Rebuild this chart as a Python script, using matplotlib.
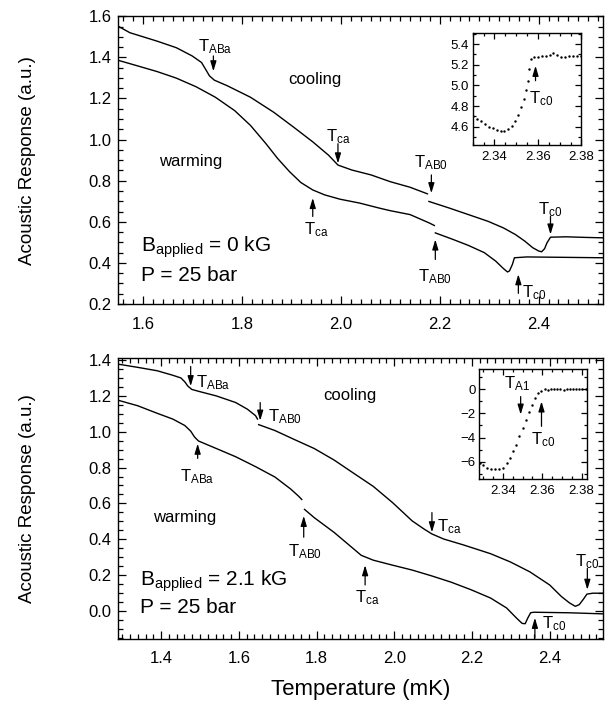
import matplotlib
matplotlib.use('Agg')
import matplotlib.pyplot as plt
from matplotlib.ticker import MultipleLocator
import numpy as np

plt.rcParams['font.family'] = ['Liberation Sans', 'DejaVu Sans']
plt.rcParams['mathtext.fontset'] = 'custom'
plt.rcParams['mathtext.rm'] = 'Liberation Sans'
plt.rcParams['mathtext.it'] = 'Liberation Sans:italic'

nan = np.nan

# ---------------- top panel (B = 0 kG) ----------------
top_cool_T = [1.549, 1.573, 1.628, 1.667, 1.699, 1.718, 1.726, 1.734, 1.744, 1.770, 1.817, 1.864,
              1.904, 1.943, 1.975, 1.994, 2.022, 2.061, 2.100, 2.140, 2.175, nan,
              2.178, 2.219, 2.258, 2.298, 2.329, 2.353, 2.372, 2.388, 2.400, 2.406, 2.412,
              2.417, 2.424, 2.455, 2.495, 2.530]
top_cool_A = [1.552, 1.520, 1.479, 1.447, 1.407, 1.375, 1.343, 1.310, 1.289, 1.262, 1.206, 1.133,
              1.061, 0.989, 0.924, 0.876, 0.852, 0.828, 0.795, 0.768, 0.736, nan,
              0.699, 0.667, 0.635, 0.602, 0.570, 0.538, 0.506, 0.474, 0.458, 0.454, 0.469,
              0.498, 0.525, 0.527, 0.524, 0.522]

top_warm_T = [1.549, 1.588, 1.628, 1.667, 1.707, 1.746, 1.785, 1.817, 1.848, 1.872, 1.896, 1.919,
              1.943, 1.967, 1.998, 2.038, 2.077, 2.100, 2.140, 2.179, 2.189, nan,
              2.191, 2.227, 2.258, 2.290, 2.313, 2.329, 2.337, 2.341, 2.347, 2.351, 2.376,
              2.455, 2.530]
top_warm_A = [1.386, 1.359, 1.331, 1.299, 1.257, 1.206, 1.141, 1.069, 0.981, 0.908, 0.844, 0.791,
              0.755, 0.731, 0.710, 0.691, 0.667, 0.654, 0.635, 0.594, 0.582, nan,
              0.546, 0.514, 0.485, 0.450, 0.409, 0.372, 0.356, 0.361, 0.393, 0.425, 0.429,
              0.427, 0.425]

# inset of top panel
ins1_T = [2.3304, 2.3321, 2.3339, 2.3357, 2.3375, 2.3393, 2.3411, 2.3429, 2.3446, 2.3464, 2.3479,
          2.3493, 2.3507, 2.3521, 2.3534, 2.3545, 2.3554, 2.3561, 2.3568, 2.3582, 2.3600, 2.3618,
          2.3636, 2.3654, 2.3671, 2.3689, 2.3707, 2.3725, 2.3743, 2.3761, 2.3779, 2.3796]
ins1_A = [4.706, 4.674, 4.652, 4.626, 4.600, 4.584, 4.568, 4.561, 4.561, 4.577, 4.610,
          4.658, 4.716, 4.787, 4.868, 4.955, 5.045, 5.158, 5.255, 5.271, 5.277, 5.284,
          5.284, 5.297, 5.310, 5.297, 5.277, 5.277, 5.284, 5.284, 5.284, 5.284]

# ---------------- bottom panel (B = 2.1 kG) ----------------
bot_cool_T = [1.289, 1.340, 1.390, 1.430, 1.451, 1.461, 1.469, 1.479, 1.501, 1.542, 1.592, 1.622,
              1.643, 1.648, nan, 1.651, 1.693, 1.744, 1.794, 1.845, 1.895, 1.946, 1.996, 2.046,
              2.077, 2.097, 2.127, 2.178, 2.248, 2.299, 2.349, 2.400, 2.430, 2.451, 2.466,
              2.476, 2.486, 2.496, 2.511, 2.537]
bot_cool_A = [1.376, 1.358, 1.339, 1.314, 1.299, 1.277, 1.253, 1.235, 1.222, 1.199, 1.162, 1.125,
              1.089, 1.070, nan, 1.039, 1.006, 0.955, 0.906, 0.842, 0.769, 0.695, 0.604, 0.503,
              0.457, 0.430, 0.402, 0.369, 0.320, 0.274, 0.219, 0.146, 0.082, 0.046, 0.027,
              0.036, 0.064, 0.095, 0.100, 0.100]

bot_warm_T = [1.289, 1.340, 1.390, 1.430, 1.461, 1.476, 1.486, 1.496, 1.542, 1.592, 1.643, 1.693,
              1.733, 1.754, 1.762, nan, 1.769, 1.794, 1.845, 1.885, 1.915, 1.946, 1.996, 2.046,
              2.097, 2.147, 2.198, 2.248, 2.289, 2.314, 2.329, 2.337, 2.344, 2.351, 2.359,
              2.450, 2.537]
bot_warm_A = [1.175, 1.144, 1.102, 1.070, 1.034, 1.003, 0.970, 0.948, 0.906, 0.860, 0.805, 0.747,
              0.681, 0.640, 0.622, nan, 0.567, 0.521, 0.439, 0.366, 0.311, 0.284, 0.256, 0.229,
              0.196, 0.161, 0.119, 0.073, 0.018, -0.037, -0.068, -0.070, -0.037, -0.009, -0.006,
              -0.009, -0.015]

# inset of bottom panel
ins2_T = [2.3284, 2.3300, 2.3320, 2.3340, 2.3360, 2.3380, 2.3400, 2.3420, 2.3436, 2.3452, 2.3468,
          2.3484, 2.3500, 2.3516, 2.3532, 2.3548, 2.3564, 2.3580, 2.3596, 2.3612, 2.3628, 2.3644,
          2.3660, 2.3676, 2.3692, 2.3708, 2.3724, 2.3740, 2.3756, 2.3772, 2.3788, 2.3804, 2.3820]
ins2_A = [-6.08, -6.30, -6.49, -6.58, -6.63, -6.63, -6.49, -6.14, -5.67, -5.12, -4.58,
          -3.89, -3.21, -2.58, -1.92, -1.29, -0.74, -0.33, -0.11, 0.00, -0.03, 0.00,
          0.00, 0.00, 0.00, -0.02, 0.00, 0.00, 0.00, 0.00, 0.00, 0.00, 0.00]


def style_axes(ax, xmaj, xmin, ymaj, ymin, size, lmaj=6, lmin=3.5, xpad=9, ypad=4.5):
    ax.xaxis.set_major_locator(MultipleLocator(xmaj))
    ax.xaxis.set_minor_locator(MultipleLocator(xmin))
    ax.yaxis.set_major_locator(MultipleLocator(ymaj))
    ax.yaxis.set_minor_locator(MultipleLocator(ymin))
    ax.tick_params(which='both', direction='in', top=True, right=True, labelsize=size, width=0.9)
    ax.tick_params(which='major', length=lmaj)
    ax.tick_params(which='minor', length=lmin)
    ax.tick_params(axis='x', which='both', pad=xpad)
    ax.tick_params(axis='y', which='both', pad=ypad)
    for s in ax.spines.values():
        s.set_linewidth(1.0)


def arrow(ax, x, y0, y1):
    # arrow from y0 (tail) to y1 (head)
    ax.annotate('', xy=(x, y1), xytext=(x, y0),
                arrowprops=dict(arrowstyle='-|>,head_length=0.6,head_width=0.18', color='k',
                                lw=0.9, mutation_scale=10, shrinkA=0, shrinkB=0))


def lab(ax, x, y, s, size=12, ha='center'):
    ax.text(x, y, s, fontsize=size, ha=ha, va='center')


fig = plt.figure(figsize=(6.13, 7.07), dpi=100)
ax1 = fig.add_axes([0.1925, 0.570, 0.791, 0.407])
ax2 = fig.add_axes([0.1925, 0.0962, 0.791, 0.3974])

# ---- top ----
ax1.plot(top_cool_T, top_cool_A, color='k', lw=1.0)
ax1.plot(top_warm_T, top_warm_A, color='k', lw=1.0)
ax1.set_xlim(1.549, 2.530)
ax1.set_ylim(0.2, 1.6)
style_axes(ax1, 0.2, 0.02, 0.2, 0.05, 12)
ax1.set_ylabel('Acoustic Response (a.u.)', fontsize=13.5, labelpad=38)

lab(ax1, 1.746, 1.450, r'$\mathregular{T_{ABa}}$')
arrow(ax1, 1.742, 1.407, 1.332)
lab(ax1, 1.947, 1.294, 'cooling')
lab(ax1, 1.695, 0.892, 'warming')
lab(ax1, 1.994, 1.015, r'$\mathregular{T_{ca}}$')
arrow(ax1, 1.994, 0.980, 0.884)
arrow(ax1, 1.943, 0.626, 0.716)
lab(ax1, 1.950, 0.560, r'$\mathregular{T_{ca}}$')
lab(ax1, 2.183, 0.886, r'$\mathregular{T_{AB0}}$')
arrow(ax1, 2.183, 0.828, 0.739)
arrow(ax1, 2.191, 0.417, 0.514)
lab(ax1, 2.191, 0.335, r'$\mathregular{T_{AB0}}$')
lab(ax1, 2.424, 0.661, r'$\mathregular{T_{c0}}$')
arrow(ax1, 2.424, 0.627, 0.538)
arrow(ax1, 2.359, 0.252, 0.345)
lab(ax1, 2.366, 0.255, r'$\mathregular{T_{c0}}$', ha='left')
lab(ax1, 1.596, 0.474, r'$\mathregular{B_{applied}}$ = 0 kG', size=15, ha='left')
lab(ax1, 1.596, 0.337, 'P = 25 bar', size=15, ha='left')

# inset top
in1 = fig.add_axes([0.771, 0.7946, 0.1775, 0.159])
in1.plot(ins1_T, ins1_A, ls='none', marker='.', ms=1.5, color='k')
in1.set_xlim(2.33, 2.38)
in1.set_ylim(4.42, 5.51)
style_axes(in1, 0.02, 0.005, 0.2, 0.1, 9.5, 4, 2.5, xpad=4, ypad=2.5)
arrow(in1, 2.3589, 5.045, 5.19)
lab(in1, 2.3613, 4.87, r'$\mathregular{T_{c0}}$')

# ---- bottom ----
ax2.plot(bot_cool_T, bot_cool_A, color='k', lw=1.0)
ax2.plot(bot_warm_T, bot_warm_A, color='k', lw=1.0)
ax2.set_xlim(1.289, 2.537)
ax2.set_ylim(-0.155, 1.41)
style_axes(ax2, 0.2, 0.02, 0.2, 0.05, 12)
ax2.set_ylabel('Acoustic Response (a.u.)', fontsize=13.5, labelpad=38)
ax2.set_xlabel('Temperature (mK)', fontsize=16, labelpad=9)

arrow(ax2, 1.476, 1.363, 1.253)
lab(ax2, 1.491, 1.275, r'$\mathregular{T_{ABa}}$', ha='left')
arrow(ax2, 1.655, 1.162, 1.061)
lab(ax2, 1.675, 1.082, r'$\mathregular{T_{AB0}}$', ha='left')
arrow(ax2, 1.494, 0.851, 0.933)
lab(ax2, 1.494, 0.750, r'$\mathregular{T_{ABa}}$')
arrow(ax2, 1.767, 0.412, 0.531)
lab(ax2, 1.770, 0.329, r'$\mathregular{T_{AB0}}$')
arrow(ax2, 1.925, 0.146, 0.256)
lab(ax2, 1.930, 0.073, r'$\mathregular{T_{ca}}$')
arrow(ax2, 2.097, 0.549, 0.439)
lab(ax2, 2.110, 0.470, r'$\mathregular{T_{ca}}$', ha='left')
lab(ax2, 2.496, 0.276, r'$\mathregular{T_{c0}}$')
arrow(ax2, 2.497, 0.238, 0.119)
arrow(ax2, 2.362, -0.150, -0.037)
lab(ax2, 2.380, -0.070, r'$\mathregular{T_{c0}}$', ha='left')
lab(ax2, 1.885, 1.199, 'cooling')
lab(ax2, 1.461, 0.521, 'warming')
lab(ax2, 1.345, 0.165, r'$\mathregular{B_{applied}}$ = 2.1 kG', size=15, ha='left')
lab(ax2, 1.345, 0.018, 'P = 25 bar', size=15, ha='left')

# inset bottom
in2 = fig.add_axes([0.782, 0.3224, 0.1764, 0.1563])
in2.plot(ins2_T, ins2_A, ls='none', marker='.', ms=1.5, color='k')
in2.set_xlim(2.328, 2.383)
in2.set_ylim(-7.45, 1.73)
style_axes(in2, 0.02, 0.005, 2, 1, 9.5, 4, 2.5, xpad=4, ypad=2.5)
lab(in2, 2.347, 0.45, r'$\mathregular{T_{A1}}$')
arrow(in2, 2.349, -0.6, -2.1)
arrow(in2, 2.3596, -3.07, -1.0)
lab(in2, 2.3605, -4.2, r'$\mathregular{T_{c0}}$')

fig.savefig('out.png', dpi=100)
